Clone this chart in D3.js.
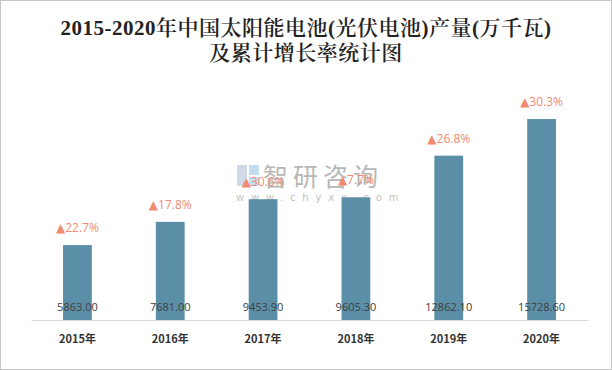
<!DOCTYPE html>
<html>
<head>
<meta charset="utf-8">
<script src="https://cdn.jsdelivr.net/npm/d3@7"></script>
<style>
  body { margin: 0; background: #fff; }
  svg { display: block; }
</style>
</head>
<body>
<svg id="chart" width="612" height="370"></svg>
<script>
const years = ["2015年", "2016年", "2017年", "2018年", "2019年", "2020年"];
const output = [5863.0, 7681.0, 9453.9, 9605.3, 12862.1, 15728.6];
const growth = [22.7, 17.8, 30.6, 7.7, 26.8, 30.3];
const titleLines = ["2015-2020年中国太阳能电池(光伏电池)产量(万千瓦)", "及累计增长率统计图"];

const width = 612, height = 370;
const padding = { left: 31, right: 24, top: 90, bottom: 50 };
const svg = d3.select("#chart");

const data = years.map((y, i) => ({ year: y, value: output[i], rate: growth[i] }));

// outer frame
svg.append("rect")
  .attr("x", 0.5).attr("y", 0.5)
  .attr("width", width - 1).attr("height", height - 1)
  .attr("fill", "#fff").attr("stroke", "#c8c8c8");

svg.append("g")
  .selectAll("text")
  .data(titleLines)
  .join("text")
  .attr("x", width / 2)
  .attr("y", (d, i) => 35 + i * 25)
  .attr("text-anchor", "middle")
  .style("font-family", "'Liberation Serif', 'Noto Serif CJK SC', 'Noto Sans CJK SC', serif")
  .style("font-size", "21px")
  .style("font-weight", "600")
  .style("letter-spacing", "0.5px")
  .style("fill", "#222")
  .text((d) => d);

const x = d3.scaleBand()
  .domain(years)
  .range([padding.left, width - padding.right])
  .padding(0.69)
  .paddingOuter(0.345);

const y = d3.scaleLinear()
  .domain([0, 18000])
  .range([height - padding.bottom, padding.top]);

// watermark
const wm = svg.append("g").attr("opacity", 0.6);
wm.append("rect").attr("x", 237).attr("y", 165).attr("width", 10).attr("height", 21).attr("fill", "#b3bfd6");
wm.append("rect").attr("x", 249).attr("y", 165).attr("width", 10).attr("height", 10).attr("fill", "#9ec9e8");
wm.append("rect").attr("x", 249).attr("y", 177).attr("width", 10).attr("height", 9).attr("fill", "#9ec9e8");
wm.append("text")
  .attr("x", 263).attr("y", 186)
  .style("font-family", "'Noto Sans CJK SC', sans-serif")
  .style("font-size", "25px")
  .style("letter-spacing", "5px")
  .style("fill", "#888")
  .text("智研咨询");
wm.append("text")
  .attr("x", 236).attr("y", 201)
  .style("font-family", "'DejaVu Sans', sans-serif")
  .style("font-size", "10px")
  .style("letter-spacing", "6.8px")
  .style("fill", "#999")
  .text("www.chyxx.com");

svg.append("g")
  .selectAll("rect")
  .data(data)
  .join("rect")
  .attr("x", (d) => x(d.year))
  .attr("y", (d) => y(d.value))
  .attr("width", x.bandwidth())
  .attr("height", (d) => y(0) - y(d.value))
  .attr("fill", "#5b8fa7");

// axis
const xAxis = (g) =>
  g
    .attr("transform", `translate(0,${y(0)})`)
    .call(d3.axisBottom(x).tickSize(0).tickPadding(15))
    .call((g) => g.select(".domain").attr("stroke", "#d9d9d9").attr("stroke-width", 1))
    .call((g) =>
      g.selectAll("text")
        .style("font-family", "'Noto Sans CJK SC', sans-serif")
        .style("font-size", "11px")
        .style("font-weight", "bold")
        .style("fill", "#333")
    );
svg.append("g").attr("class", "x-axis").call(xAxis);

// value labels
svg.append("g")
  .selectAll("text")
  .data(data)
  .join("text")
  .attr("x", (d) => x(d.year) + x.bandwidth() / 2)
  .attr("y", y(0) - 9)
  .attr("text-anchor", "middle")
  .style("font-family", "'Open Sans', 'DejaVu Sans', sans-serif")
  .style("font-size", "11px")
  .style("fill", "#404040")
  .text((d) => d.value.toFixed(2));

// growth labels
svg.append("g")
  .selectAll("text")
  .data(data)
  .join("text")
  .attr("x", (d) => x(d.year) + x.bandwidth() / 2)
  .attr("y", (d) => y(d.value) - 13)
  .attr("text-anchor", "middle")
  .style("font-family", "'Open Sans', 'DejaVu Sans', sans-serif")
  .style("font-size", "12px")
  .style("fill", "#f08a70")
  .text((d) => "▲" + d.rate.toFixed(1) + "%");
</script>
</body>
</html>
